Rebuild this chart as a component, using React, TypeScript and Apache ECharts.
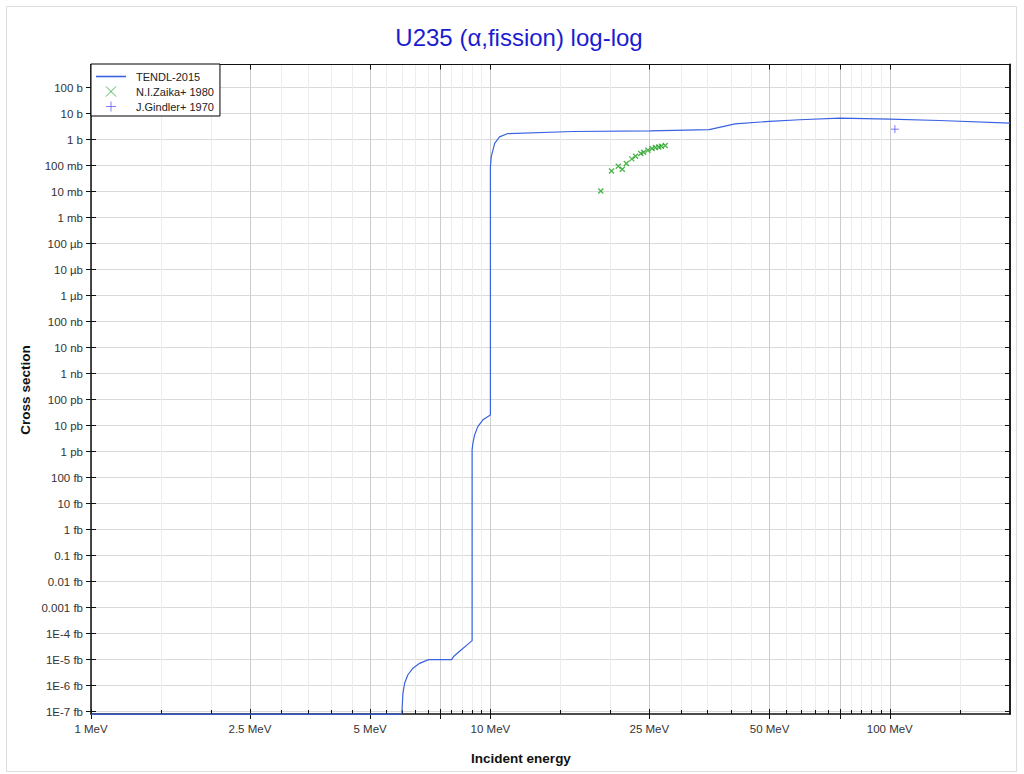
import React, { useEffect, useRef } from "react";
import * as echarts from "echarts";

// ---- data (energy in MeV, cross section in barns) ----
const tendlEnergyMeV = [
  1, 6.0, 6.04, 6.1, 6.21, 6.4, 6.65, 7.0, 8.0, 8.08, 8.21, 8.46, 8.73, 9.0, 9.0, 9.04, 9.13, 9.3, 9.58,
  10.0, 10.0, 10.05, 10.25, 10.54, 11.06, 16.1, 25.1, 35.3, 41.0, 50, 59.4, 75, 100, 133, 200,
];
const tendlSigmaBarn = [
  8.1e-23, 8.1e-23, 5.1e-22, 1.23e-21, 2.57e-21, 4.7e-21, 7.2e-21, 1.0e-20, 1.0e-20, 1.3e-20, 1.62e-20, 2.4e-20,
  3.63e-20, 5.37e-20, 1.17e-12, 2.09e-12, 4.37e-12, 9.1e-12, 1.66e-11, 2.57e-11, 0.089, 0.219, 0.71,
  1.26, 1.7, 2.04, 2.14, 2.4, 3.98, 5.0, 5.75, 6.65, 6.1, 5.38, 4.28,
];
const zaikaEnergyMeV = [18.9, 20.1, 20.9, 21.4, 21.9, 22.6, 23.1, 23.8, 24.2, 24.8, 25.4, 25.9, 26.4, 26.8, 27.4];
const zaikaSigmaBarn = [0.0105, 0.062, 0.094, 0.072, 0.119, 0.18, 0.228, 0.29, 0.325, 0.389, 0.451, 0.492, 0.519, 0.552, 0.588];
const gindlerEnergyMeV = [103];
const gindlerSigmaBarn = [2.5];

// ---- axes ----
const xMinMeV = 1;
const xMaxMeV = 200;
const yMinLog = -22.09;
const yMaxLog = 2.885;
const xMajorTickMeV = [1, 2.5, 5, 7.5, 10, 25, 50, 75, 100];
const xLabelMeV = [1, 2.5, 5, 10, 25, 50, 100];
const xMinorTickMeV = [
  1.5, 2, 3, 3.5, 4, 4.5, 5.5, 6, 6.5, 7, 8, 8.5, 9, 9.5,
  15, 20, 30, 35, 40, 45, 55, 60, 65, 70, 80, 85, 90, 95, 150,
];
const yTickExponents = [2, 1, 0, -1, -2, -3, -4, -5, -6, -7, -8, -9, -10, -11, -12, -13, -14, -15, -16, -17, -18, -19, -20, -21, -22];
const yTickLabels = [
  "100 b", "10 b", "1 b", "100 mb", "10 mb", "1 mb", "100 µb", "10 µb", "1 µb", "100 nb", "10 nb", "1 nb",
  "100 pb", "10 pb", "1 pb", "100 fb", "10 fb", "1 fb", "0.1 fb", "0.01 fb", "0.001 fb", "1E-4 fb",
  "1E-5 fb", "1E-6 fb", "1E-7 fb",
];

const seriesNames = ["TENDL-2015", "N.I.Zaika+ 1980", "J.Gindler+ 1970"];
const seriesColors = ["#3a62e2", "#1ea11e", "#5a5aff"];

const FONT = "'Liberation Sans', Arial, Helvetica, sans-serif";
const CROSS = "path://M0,0L10,10M10,0L0,10";
const PLUS = "path://M5,0L5,10M0,5L10,5";

const lg = (v: number) => Math.log10(v);
const pairs = (xs: number[], ys: number[]) => xs.map((x, i) => [lg(x), lg(ys[i])]);

export default function App() {
  const ref = useRef<HTMLDivElement>(null);
  useEffect(() => {
    if (!ref.current) return;
    const chart = echarts.init(ref.current, null, { renderer: "svg" });
    const xMin = lg(xMinMeV);
    const xMax = lg(xMaxMeV);
    const majorLog = xMajorTickMeV.map(lg);
    const minorLog = xMinorTickMeV.map(lg);
    const labelLog = xLabelMeV.map(lg);
    const axisColor = "#111";
    const baseX = { type: "value", min: xMin, max: xMax, gridIndex: 0 };
    const baseY = { type: "value", min: yMinLog, max: yMaxLog, gridIndex: 0 };
    const xFmt = (v: number) => {
      const e = Math.round(Math.pow(10, v) * 100) / 100;
      return `${e} MeV`;
    };
    const yFmt = (v: number) => {
      const i = yTickExponents.indexOf(Math.round(v));
      return i >= 0 ? yTickLabels[i] : "";
    };
    chart.setOption({
      animation: false,
      backgroundColor: "#fff",
      grid: { left: 91, top: 64.5, width: 919, height: 649.5, containLabel: false },
      graphic: [
        {
          type: "rect",
          shape: { x: 6.5, y: 6.5, width: 1010, height: 765 },
          style: { fill: "none", stroke: "#dddddd", lineWidth: 1 },
          silent: true,
          z: -10,
        },
        {
          type: "text",
          x: 519,
          y: 37,
          style: {
            text: "U235 (α,fission) log-log",
            fill: "#1c1ccf",
            font: `24px ${FONT}`,
            textAlign: "center",
            textVerticalAlign: "middle",
          },
        },
        {
          type: "text",
          x: 521,
          y: 758,
          style: {
            text: "Incident energy",
            fill: "#111",
            font: `bold 13.5px ${FONT}`,
            textAlign: "center",
            textVerticalAlign: "middle",
          },
        },
        {
          type: "text",
          x: 25,
          y: 390,
          rotation: Math.PI / 2,
          style: {
            text: "Cross section",
            fill: "#111",
            font: `bold 13.5px ${FONT}`,
            textAlign: "center",
            textVerticalAlign: "middle",
          },
        },
      ],
      legend: {
        left: 91,
        top: 64,
        orient: "vertical",
        backgroundColor: "#fff",
        borderColor: "#000",
        borderWidth: 1,
        borderRadius: 0,
        padding: [7, 6, 4, 5],
        itemGap: 4,
        itemWidth: 30,
        itemHeight: 10,
        textStyle: { fontSize: 11, color: "#222", fontFamily: FONT, padding: [0, 0, 0, 5] },
        data: [
          { name: seriesNames[0], icon: "path://M0,0H30V1.6H0Z", itemStyle: { color: seriesColors[0], borderWidth: 0 } },
          { name: seriesNames[1], icon: CROSS, itemStyle: { color: seriesColors[1], borderColor: seriesColors[1], borderWidth: 1 } },
          { name: seriesNames[2], icon: PLUS, itemStyle: { color: seriesColors[2], borderColor: seriesColors[2], borderWidth: 1 } },
        ],
      },
      xAxis: [
        {
          ...baseX,
          position: "bottom",
          axisLine: { show: true, onZero: false, lineStyle: { color: axisColor, width: 1.5 } },
          axisTick: { show: true, inside: false, length: 5, customValues: majorLog, lineStyle: { color: axisColor } },
          axisLabel: { customValues: labelLog, formatter: xFmt, margin: 9, color: "#333", fontSize: 11.5, fontFamily: FONT },
          splitLine: { show: true, lineStyle: { color: "#cccccc", width: 1 } },
        },
        {
          ...baseX,
          position: "bottom",
          axisLine: { show: false, onZero: false },
          axisTick: { show: true, inside: true, length: 4, customValues: minorLog, lineStyle: { color: axisColor } },
          axisLabel: { show: false },
          splitLine: { show: true, lineStyle: { color: "#ededed", width: 1 } },
        },
        {
          ...baseX,
          position: "bottom",
          axisLine: { show: false, onZero: false },
          axisTick: { show: true, inside: true, length: 5, customValues: majorLog, lineStyle: { color: axisColor } },
          axisLabel: { show: false },
          splitLine: { show: false },
        },
        {
          ...baseX,
          position: "top",
          axisLine: { show: true, onZero: false, lineStyle: { color: axisColor, width: 1 } },
          axisTick: { show: true, inside: true, length: 5, customValues: majorLog, lineStyle: { color: axisColor } },
          axisLabel: { show: false },
          splitLine: { show: false },
        },
      ],
      yAxis: [
        {
          ...baseY,
          position: "left",
          axisLine: { show: true, onZero: false, lineStyle: { color: axisColor, width: 1.5 } },
          axisTick: { show: true, inside: false, length: 5, customValues: yTickExponents, lineStyle: { color: axisColor } },
          axisLabel: { customValues: yTickExponents, formatter: yFmt, margin: 8, color: "#333", fontSize: 11.5, fontFamily: FONT },
          splitLine: { show: true, lineStyle: { color: "#dadada", width: 1.2 } },
        },
        {
          ...baseY,
          position: "left",
          axisLine: { show: false, onZero: false },
          axisTick: { show: true, inside: true, length: 5, customValues: yTickExponents, lineStyle: { color: axisColor } },
          axisLabel: { show: false },
          splitLine: { show: false },
        },
        {
          ...baseY,
          position: "right",
          axisLine: { show: true, onZero: false, lineStyle: { color: "#222", width: 2 } },
          axisTick: { show: true, inside: true, length: 5, customValues: yTickExponents, lineStyle: { color: axisColor } },
          axisLabel: { show: false },
          splitLine: { show: false },
        },
      ],
      series: [
        {
          name: seriesNames[0],
          type: "line",
          xAxisIndex: 0,
          yAxisIndex: 0,
          data: pairs(tendlEnergyMeV, tendlSigmaBarn),
          symbol: "none",
          showSymbol: false,
          clip: false,
          color: seriesColors[0],
          itemStyle: { color: seriesColors[0] },
          lineStyle: { color: seriesColors[0], width: 1.2 },
          z: 3,
        },
        {
          name: seriesNames[1],
          type: "scatter",
          xAxisIndex: 0,
          yAxisIndex: 0,
          data: pairs(zaikaEnergyMeV, zaikaSigmaBarn),
          symbol: CROSS,
          symbolSize: 5,
          itemStyle: { color: seriesColors[1], borderColor: seriesColors[1], borderWidth: 1.3 },
          z: 4,
        },
        {
          name: seriesNames[2],
          type: "scatter",
          xAxisIndex: 0,
          yAxisIndex: 0,
          data: pairs(gindlerEnergyMeV, gindlerSigmaBarn),
          symbol: PLUS,
          symbolSize: 8,
          itemStyle: { color: seriesColors[2], borderColor: seriesColors[2], borderWidth: 1 },
          z: 4,
        },
      ],
    });
    return () => chart.dispose();
  }, []);
  return <div ref={ref} style={{ position: "absolute", left: 0, top: 0, width: 1024, height: 774 }} />;
}
